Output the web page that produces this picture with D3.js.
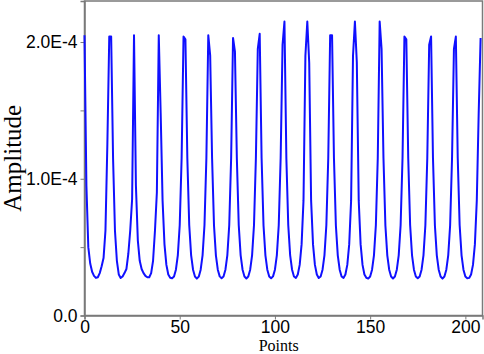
<!DOCTYPE html>
<html>
<head>
<meta charset="utf-8">
<script src="https://cdn.jsdelivr.net/npm/d3@7/dist/d3.min.js"></script>
<style>
body { margin: 0; background: #fff; }
</style>
</head>
<body>
<div class="chart"></div>
<script>
// amplitude per point, in units of 1E-4 (point index = position in array)
var amp = [
  2.05, 0.95, 0.50, 0.38, 0.32, 0.29, 0.275, 0.28, 0.31, 0.36, 0.42, 0.62, 1.25, 2.04, 2.04,
  1.15, 0.62, 0.40, 0.30, 0.275, 0.285, 0.31, 0.34, 0.45, 0.62, 0.85, 2.05, 0.95,
  0.55, 0.40, 0.34, 0.31, 0.29, 0.28, 0.28, 0.31, 0.40, 0.62, 0.90, 2.05,
  1.48, 0.84, 0.52, 0.37, 0.30, 0.276, 0.272, 0.285, 0.335, 0.44, 0.66, 1.15, 2.04, 2.02,
  1.15, 0.66, 0.44, 0.335, 0.285, 0.270, 0.284, 0.335, 0.44, 0.66, 1.15, 2.05, 1.90,
  1.15, 0.66, 0.44, 0.335, 0.286, 0.273, 0.285, 0.335, 0.44, 0.66, 1.15, 2.03, 1.93,
  1.15, 0.66, 0.44, 0.335, 0.285, 0.271, 0.285, 0.335, 0.44, 0.66, 1.15, 1.95, 2.06,
  1.15, 0.66, 0.44, 0.335, 0.285, 0.272, 0.286, 0.335, 0.44, 0.66, 1.15, 1.98, 2.15,
  1.15, 0.66, 0.44, 0.335, 0.285, 0.275, 0.30, 0.37, 0.52, 0.84, 1.90, 2.15, 1.85,
  0.84, 0.52, 0.37, 0.30, 0.274, 0.285, 0.335, 0.44, 0.66, 1.15, 2.05, 2.05,
  1.15, 0.66, 0.44, 0.335, 0.285, 0.275, 0.30, 0.37, 0.52, 0.84, 1.90, 2.15, 1.85,
  0.84, 0.52, 0.37, 0.30, 0.276, 0.270, 0.285, 0.335, 0.44, 0.66, 1.15, 2.15, 1.95,
  1.15, 0.66, 0.44, 0.335, 0.285, 0.271, 0.285, 0.335, 0.44, 0.66, 1.15, 2.04, 2.02,
  1.15, 0.66, 0.44, 0.335, 0.285, 0.272, 0.285, 0.335, 0.44, 0.66, 1.15, 1.98, 2.04,
  1.15, 0.66, 0.44, 0.335, 0.285, 0.270, 0.285, 0.335, 0.44, 0.66, 1.15, 1.95, 2.04,
  1.15, 0.66, 0.44, 0.335, 0.285, 0.272, 0.275, 0.30, 0.37, 0.52, 0.84, 1.48, 2.03
];

var xTicks = [0, 50, 100, 150, 200];
var yTicks = [0, 0.5, 1, 1.5, 2];
var yLabels = {0: "0.0", 1: "1.0E-4", 2: "2.0E-4"};
var labelX = "Points";
var labelY = "Amplitude";

var width = 484, height = 354;
var margin = {left: 84.5, right: 1.5, top: 1, bottom: 38.5};
var w = width - margin.left - margin.right;
var h = height - margin.top - margin.bottom;

var svg = d3.select(".chart").append("svg")
    .attr("width", width)
    .attr("height", height);

var g = svg.append("g")
    .attr("transform", "translate(" + margin.left + "," + margin.top + ")");

var x = d3.scaleLinear().domain([0, 209]).range([0, w]);
var y = d3.scaleLinear().domain([0, 2.3]).range([h, 0]);

var axisColor = "#7a7a7a";
var tickFont = "'Liberation Sans', Arial, sans-serif";
var labelFont = "'Liberation Serif', 'Times New Roman', serif";

// frame
g.append("rect")
    .attr("x", 0).attr("y", 0)
    .attr("width", w).attr("height", h)
    .attr("fill", "none")
    .attr("stroke", axisColor)
    .attr("stroke-width", 1.5);

var xAxis = d3.axisBottom(x).tickValues(xTicks).tickSize(4).tickPadding(1);
var yAxis = d3.axisLeft(y).tickValues(yTicks).tickSize(4).tickPadding(3)
    .tickFormat(function (d) { return yLabels[d] || ""; });

var gx = g.append("g")
    .attr("transform", "translate(0," + h + ")")
    .call(xAxis);
var gy = g.append("g").call(yAxis);

[gx, gy].forEach(function (a) {
  a.select(".domain").attr("stroke", axisColor).attr("stroke-width", 1.5);
  a.selectAll(".tick line").attr("stroke", axisColor).attr("stroke-width", 1);
  a.selectAll(".tick text")
      .attr("fill", "#000")
      .style("font-family", tickFont)
      .style("font-size", "17.5px");
});

// the signal
var line = d3.line()
    .x(function (d, i) { return x(i); })
    .y(function (d) { return y(d); });

g.append("path")
    .datum(amp)
    .attr("fill", "none")
    .attr("stroke", "#1010ff")
    .attr("stroke-width", 2)
    .attr("stroke-linejoin", "round")
    .attr("d", line);

// axis titles
svg.append("text")
    .attr("x", margin.left + x(102))
    .attr("y", 350.5)
    .attr("text-anchor", "middle")
    .style("font-family", labelFont)
    .style("font-size", "16px")
    .text(labelX);

svg.append("text")
    .attr("transform", "translate(21," + (margin.top + y(1.15)) + ") rotate(-90)")
    .attr("text-anchor", "middle")
    .style("font-family", labelFont)
    .style("font-size", "25px")
    .text(labelY);
</script>
</body>
</html>
